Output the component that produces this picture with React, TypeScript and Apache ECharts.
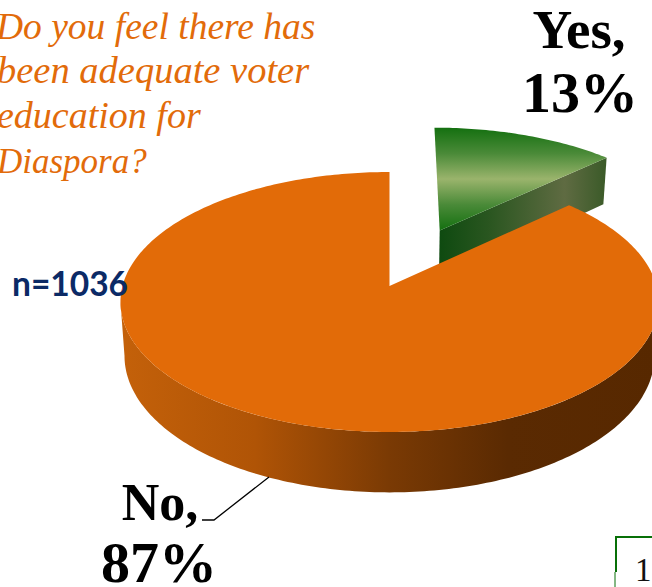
import React, { useEffect, useRef } from "react";
import * as echarts from "echarts";

const categories = ["Yes", "No"];
const percentages = [13, 87];
const questionLines = [
  "Do you feel there has",
  "been adequate voter",
  "education for",
  "Diaspora?",
];
const sampleLabel = "n=1036";
const pageNumber = "1";

const W = 652;
const H = 587;
const CX = 389.5;
const CY = 286;
const RX = 267;
const KY = 128;
const P = 0.123;
const DEPTH = 53;
const BOTTOM_SCALE = 0.985;
const EXPLODE = 0.5;

function project(dx: number, dz: number, bottom: boolean): number[] {
  const s = 1 / (1 + P * dz);
  const b = bottom ? BOTTOM_SCALE : 1;
  return [CX + RX * dx * s * b, CY - KY * dz * s + (bottom ? DEPTH * s : 0)];
}

function arcPoints(ox: number, oz: number, a0: number, a1: number, bottom: boolean) {
  const n = Math.max(8, Math.ceil((a1 - a0) * 60));
  const pts: number[][] = [];
  for (let i = 0; i <= n; i++) {
    const a = a0 + ((a1 - a0) * i) / n;
    pts.push(project(ox + Math.sin(a), oz + Math.cos(a), bottom));
  }
  return pts;
}

function hGrad(stops: [number, string][]) {
  return new echarts.graphic.LinearGradient(
    0, 0, 1, 0,
    stops.map(([offset, color]) => ({ offset, color })),
  );
}
function vGrad(stops: [number, string][]) {
  return new echarts.graphic.LinearGradient(
    0, 0, 0, 1,
    stops.map(([offset, color]) => ({ offset, color })),
  );
}

function renderSlice(params: any) {
  const i = params.dataIndex;
  const total = percentages.reduce((a, b) => a + b, 0);
  const before = percentages.slice(0, i).reduce((a, b) => a + b, 0);
  const a0 = (before / total) * Math.PI * 2;
  const a1 = ((before + percentages[i]) / total) * Math.PI * 2;
  const isYes = categories[i] === "Yes";
  const mid = (a0 + a1) / 2;
  const ox = isYes ? EXPLODE * Math.sin(mid) : 0;
  const oz = isYes ? EXPLODE * Math.cos(mid) : 0;
  const topArc = arcPoints(ox, oz, a0, a1, false);
  const apex = project(ox, oz, false);
  const children: any[] = [];
  if (isYes) {
    const apexB = project(ox, oz, true);
    const end = topArc[topArc.length - 1];
    const endB = project(ox + Math.sin(a1), oz + Math.cos(a1), true);
    children.push({
      type: "polygon",
      shape: { points: [apex, end, endB, apexB] },
      style: {
        fill: hGrad([
          [0, "#0e4a10"],
          [0.3, "#2a5620"],
          [0.75, "#5f6b42"],
          [1, "#3a5a28"],
        ]),
      },
    });
    children.push({
      type: "polygon",
      shape: { points: [apex, ...topArc] },
      style: {
        fill: vGrad([
          [0, "#147010"],
          [0.25, "#4a8a38"],
          [0.5, "#9ab46c"],
          [0.75, "#4a8a38"],
          [1, "#147010"],
        ]),
      },
    });
  } else {
    // The rim is visible only between the two silhouette angles of the disc.
    const right = Math.acos(-P);
    const left = Math.PI * 2 - right;
    const rimTop = arcPoints(ox, oz, right, left, false);
    const rimBottom = arcPoints(ox, oz, right, left, true);
    children.push({
      type: "polygon",
      shape: { points: [...rimTop, ...rimBottom.slice().reverse()] },
      style: {
        fill: hGrad([
          [0, "#c4610a"],
          [0.25, "#b05406"],
          [0.5, "#7a3a04"],
          [0.72, "#5a2a02"],
          [1, "#572800"],
        ]),
      },
    });
    children.push({
      type: "polygon",
      shape: { points: [apex, ...topArc] },
      style: { fill: "#e26b08" },
    });
  }
  return { type: "group", children };
}

const boldSerif = { fontFamily: "Liberation Serif", fontWeight: "bold", fill: "#000" };

function text(x: number, baseline: number, t: string, size: number, style: any, align = "left") {
  return {
    type: "text",
    z: 100,
    x,
    y: baseline - size * 0.84,
    style: { text: t, fontSize: size, textAlign: align, ...style },
  };
}

export default function App() {
  const ref = useRef<HTMLDivElement>(null);
  useEffect(() => {
    document.body.style.margin = "0";
    const chart = echarts.init(ref.current!, undefined, { renderer: "svg" });
    const qStyle = { fontFamily: "Liberation Serif", fontStyle: "italic", fill: "#e26b0a" };
    const qX = [-4, -3, -3, -3];
    const qY = [39, 83, 128, 173];
    const qSize = [37.5, 38.5, 38, 35];
    chart.setOption({
      animation: false,
      series: [
        {
          type: "custom",
          coordinateSystem: "none",
          silent: true,
          clip: false,
          z: 1,
          data: percentages,
          renderItem: renderSlice,
        },
      ],
      graphic: [
        ...questionLines.map((l, i) => text(qX[i], qY[i], l, qSize[i], qStyle)),
        text(579, 48, `${categories[0]},`, 55, boldSerif, "center"),
        text(580, 112, `${percentages[0]}%`, 58, boldSerif, "center"),
        text(160, 520, `${categories[1]},`, 52, boldSerif, "center"),
        text(159, 582, `${percentages[1]}%`, 58, boldSerif, "center"),
        text(12, 294, sampleLabel, 33.5, { fontFamily: "Lato", fontWeight: "bold", fill: "#0b2a66" }),
        {
          type: "polyline",
          z: 100,
          shape: { points: [[269, 477], [214, 520], [202, 520]] },
          style: { stroke: "#000", lineWidth: 1.3, fill: "none" },
        },
        {
          type: "polyline",
          z: 100,
          shape: { points: [[652, 537], [616, 537], [616, 572]] },
          style: { stroke: "#087008", lineWidth: 2, fill: "none" },
        },
        {
          type: "line",
          z: 100,
          shape: { x1: 615, y1: 572, x2: 615, y2: 587 },
          style: { stroke: "#087008", lineWidth: 1 },
        },
        text(635, 581, pageNumber, 33, { fontFamily: "Liberation Serif", fill: "#111" }),
      ],
    });
    return () => chart.dispose();
  }, []);
  return <div ref={ref} style={{ width: W, height: H, overflow: "hidden" }} />;
}
